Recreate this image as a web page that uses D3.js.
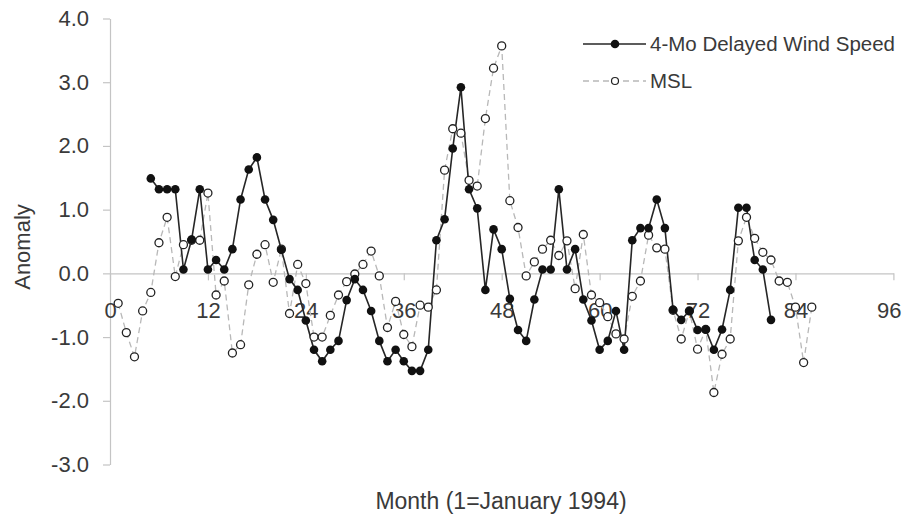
<!DOCTYPE html>
<html>
<head>
<meta charset="utf-8">
<script src="https://cdn.jsdelivr.net/npm/d3@7"></script>
<style>
  html, body { margin: 0; padding: 0; background: #fff; }
  svg { display: block; }
  text { font-family: "Liberation Sans", Arial, sans-serif; fill: #3a3a3a; }
</style>
</head>
<body>
<svg id="chart" width="904" height="521"></svg>
<script>
// ---- data ----
const windMonths = d3.range(5, 82); // months 5..81
const windValues = [
  1.49, 1.32, 1.32, 1.32, 0.06, 0.53, 1.32, 0.06, 0.21, 0.06,   // 5-14
  0.38, 1.16, 1.63, 1.82, 1.16, 0.84, 0.37, -0.09, -0.26, -0.74, // 15-24
  -1.20, -1.38, -1.20, -1.06, -0.42, -0.09, -0.26, -0.59, -1.06, -1.38, // 25-34
  -1.20, -1.38, -1.53, -1.53, -1.20, 0.52, 0.85, 1.96, 2.92, 1.32, // 35-44
  1.02, -0.26, 0.69, 0.38, -0.40, -0.89, -1.06, -0.41, 0.06, 0.06, // 45-54
  1.32, 0.06, 0.38, -0.41, -0.74, -1.20, -1.06, -0.59, -1.20, 0.52, // 55-64
  0.71, 0.71, 1.16, 0.71, -0.57, -0.73, -0.59, -0.89, -0.88, -1.20, // 65-74
  -0.88, -0.26, 1.03, 1.03, 0.21, 0.06, -0.73                       // 75-81
];
const mslMonths = d3.range(1, 87); // months 1..86
const mslValues = [
  -0.47, -0.93, -1.31, -0.59, -0.30, 0.48, 0.88, -0.05, 0.45, 0.52, // 1-10
  0.52, 1.26, -0.34, -0.12, -1.25, -1.12, -0.18, 0.30, 0.45, -0.14, // 11-20
  0.38, -0.63, 0.14, -0.16, -1.00, -1.00, -0.66, -0.34, -0.13, -0.01, // 21-30
  0.14, 0.35, -0.04, -0.85, -0.44, -0.96, -1.15, -0.50, -0.53, -0.26, // 31-40
  1.62, 2.27, 2.20, 1.46, 1.37, 2.43, 3.22, 3.57, 1.14, 0.72,       // 41-50
  -0.04, 0.18, 0.38, 0.52, 0.28, 0.51, -0.24, 0.61, -0.34, -0.46,   // 51-60
  -0.68, -0.95, -1.03, -0.36, -0.12, 0.60, 0.40, 0.38, -0.58, -1.03, // 61-70
  -0.59, -1.19, -0.88, -1.87, -1.27, -1.03, 0.51, 0.88, 0.55, 0.33, // 71-80
  0.21, -0.12, -0.14, -0.53, -1.40, -0.53                           // 81-86
];
const xTicks = [0, 12, 24, 36, 48, 60, 72, 84, 96];
const yTicks = [-3, -2, -1, 0, 1, 2, 3, 4];
const seriesNames = ["4-Mo Delayed Wind Speed", "MSL"];
const xTitle = "Month (1=January 1994)";
const yTitle = "Anomaly";

// ---- layout ----
const svg = d3.select("#chart");
const x = d3.scaleLinear().domain([0, 96]).range([110, 893.4]);
const y = d3.scaleLinear().domain([-3, 4]).range([464.5, 18.5]);
const axisColor = "#c4c4c4";
const fontSize = 22;

// y axis
const yAxis = svg.append("g")
  .attr("transform", `translate(${x(0)},0)`)
  .call(d3.axisLeft(y).tickValues(yTicks).tickSize(7).tickSizeOuter(0)
    .tickPadding(14).tickFormat(d => d.toFixed(1)));
yAxis.select(".domain").attr("stroke", axisColor).attr("stroke-width", 1.2);
yAxis.selectAll(".tick line").attr("stroke", axisColor).attr("stroke-width", 1.2);
yAxis.selectAll(".tick text").attr("font-size", fontSize)
  .style("font-family", '"Liberation Sans", Arial, sans-serif').attr("fill", "#3a3a3a");

// x axis at zero
const xAxis = svg.append("g")
  .attr("transform", `translate(0,${y(0)})`)
  .call(d3.axisBottom(x).tickValues(xTicks).tickSize(7).tickSizeOuter(0).tickFormat(d3.format("d")));
xAxis.select(".domain").attr("stroke", axisColor).attr("stroke-width", 1.2);
xAxis.selectAll(".tick line").attr("stroke", axisColor).attr("stroke-width", 1.2);
xAxis.selectAll(".tick text").attr("font-size", fontSize).attr("y", 29).attr("dy", "0.71em")
  .style("font-family", '"Liberation Sans", Arial, sans-serif').attr("fill", "#3a3a3a");
// keep the last label inside the picture (as the reference does)
xAxis.selectAll(".tick text").filter(d => d === 96)
  .attr("text-anchor", "end").attr("x", 901 - x(96));

// axis titles
svg.append("text").attr("x", 501).attr("y", 509).attr("text-anchor", "middle")
  .attr("font-size", 23).text(xTitle);
svg.append("text").attr("transform", `translate(30,247) rotate(-90)`)
  .attr("text-anchor", "middle").attr("font-size", fontSize).text(yTitle);

// series data
const wind = windMonths.map((m, i) => ({ m, v: windValues[i] }));
const msl = mslMonths.map((m, i) => ({ m, v: mslValues[i] }));
const line = d3.line().x(d => x(d.m)).y(d => y(d.v));

// MSL dashed line + open circles
svg.append("path").datum(msl).attr("d", line).attr("fill", "none")
  .attr("stroke", "#b8b8b8").attr("stroke-width", 1.3).attr("stroke-dasharray", "6,4");
// wind line
svg.append("path").datum(wind).attr("d", line).attr("fill", "none")
  .attr("stroke", "#262626").attr("stroke-width", 1.6);
svg.append("g").selectAll("circle").data(msl).join("circle")
  .attr("cx", d => x(d.m)).attr("cy", d => y(d.v)).attr("r", 4)
  .attr("fill", "#fff").attr("stroke", "#222").attr("stroke-width", 1.3);
svg.append("g").selectAll("circle").data(wind).join("circle")
  .attr("cx", d => x(d.m)).attr("cy", d => y(d.v)).attr("r", 4.3)
  .attr("fill", "#111");

// legend
const lg = svg.append("g");
lg.append("line").attr("x1", 583).attr("x2", 646).attr("y1", 44).attr("y2", 44)
  .attr("stroke", "#262626").attr("stroke-width", 1.6);
lg.append("circle").attr("cx", 615).attr("cy", 44).attr("r", 4.3).attr("fill", "#111");
lg.append("text").attr("x", 650).attr("y", 44).attr("dy", "0.36em").attr("font-size", 20.5)
  .text(seriesNames[0]);
lg.append("line").attr("x1", 583).attr("x2", 646).attr("y1", 81).attr("y2", 81)
  .attr("stroke", "#b8b8b8").attr("stroke-width", 1.3).attr("stroke-dasharray", "6,4");
lg.append("circle").attr("cx", 615).attr("cy", 81).attr("r", 3.5)
  .attr("fill", "#fff").attr("stroke", "#222").attr("stroke-width", 1.2);
lg.append("text").attr("x", 650).attr("y", 81).attr("dy", "0.36em").attr("font-size", 20.5)
  .text(seriesNames[1]);
</script>
</body>
</html>
